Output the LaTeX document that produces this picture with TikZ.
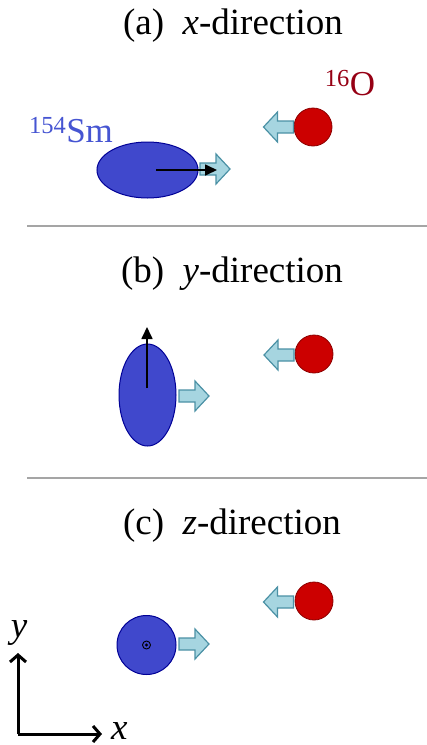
\documentclass[tikz,border=0pt]{standalone}
\usepackage{fontspec}
\setmainfont{Liberation Serif}
\usetikzlibrary{shapes.geometric, arrows.meta, positioning, calc}
\definecolor{cSm}{RGB}{64,72,204}
\definecolor{cSmEdge}{RGB}{0,0,150}
\definecolor{cSmText}{RGB}{70,85,210}
\definecolor{cO}{RGB}{204,0,0}
\definecolor{cOEdge}{RGB}{140,0,0}
\definecolor{cOText}{RGB}{150,0,20}
\definecolor{cPush}{RGB}{166,213,224}
\definecolor{cPushEdge}{RGB}{75,145,165}
\definecolor{cSep}{RGB}{165,165,165}
\tikzset{
	title/.style    ={font=\fontsize{37}{42}\selectfont},
	nuc/.style      ={font=\fontsize{35}{40}\selectfont},
	target/.style   ={ellipse, draw=cSmEdge, fill=cSm, line width=1pt, inner sep=0pt},
	proj/.style     ={circle, draw=cOEdge, fill=cO, line width=0.8pt, minimum size=38pt, inner sep=0pt},
	push/.style     ={draw=cPushEdge, fill=cPush, line width=1.2pt, line join=miter},
	spin/.style     ={-{Triangle[length=12pt, width=11pt]}, line width=1.7pt},
	axis/.style     ={-{Straight Barb[length=7pt, width=16pt]}, line width=3pt},
	sepline/.style  ={cSep, line width=1.5pt},
	% block arrow pointing right, centred on its origin
	pushR/.pic      ={\draw[push] (-15,-6) -- (1,-6) -- (1,-15) -- (15,0) -- (1,15) -- (1,6) -- (-15,6) -- cycle;},
}
\begin{document}
\begin{tikzpicture}[x=1pt, y=-1pt]
	\useasboundingbox (0,0) rectangle (427,745);
	% (a) x-direction
	\node[title] (ta) at (233,26) {(a)~~\textit{x}-direction};
	\node[target, minimum width=101pt, minimum height=56pt] (smA) at (147.5,170) {};
	\node[nuc, text=cSmText] (lSm) at (71,130) {\textsuperscript{154}Sm};
	\node[proj] (oA) at (313,127) {};
	\node[nuc, text=cOText] (lO) at (350,83) {\textsuperscript{16}O};
	\pic at (215,169) {pushR};
	\pic[rotate=180] at (278.5,127) {pushR};
	\coordinate (spA) at (217,170);
	\draw[spin] (smA.center) ++(8.5,0) -- (spA);
	\draw[sepline] (27,226) -- (427,226);
	% (b) y-direction
	\node[title] (tb) at (232,274) {(b)~~\textit{y}-direction};
	\node[target, minimum width=57pt, minimum height=102pt] (smB) at (147.5,395) {};
	\node[proj] (oB) at (314,354) {};
	\pic at (194,396) {pushR};
	\pic[rotate=180] at (279,355) {pushR};
	\coordinate (spB) at (147,327);
	\draw[spin] (147,388) -- (spB);
	\draw[sepline] (27,478) -- (427,478);
	% (c) z-direction
	\node[title] (tc) at (232,526) {(c)~~\textit{z}-direction};
	\node[target, circle, minimum size=59pt] (smC) at (146.5,645) {};
	\draw[line width=0.9pt] (smC.center) circle (4);
	\fill (smC.center) circle (1.7);
	\node[proj] (oC) at (314,601) {};
	\pic at (194,644) {pushR};
	\pic[rotate=180] at (278.5,602) {pushR};
	% axes
	\coordinate (org) at (18,734);
	\coordinate (ytip) at (18,653);
	\coordinate (xtip) at (102,734);
	\draw[axis] (org) -- (ytip);
	\draw[axis] (org) -- (xtip);
	\node[title, anchor=base, inner sep=0pt] (ly) at (19,637) {\textit{y}};
	\node[title, anchor=base west, inner sep=0pt] (lx) at (111,739) {\textit{x}};
\end{tikzpicture}
\end{document}
